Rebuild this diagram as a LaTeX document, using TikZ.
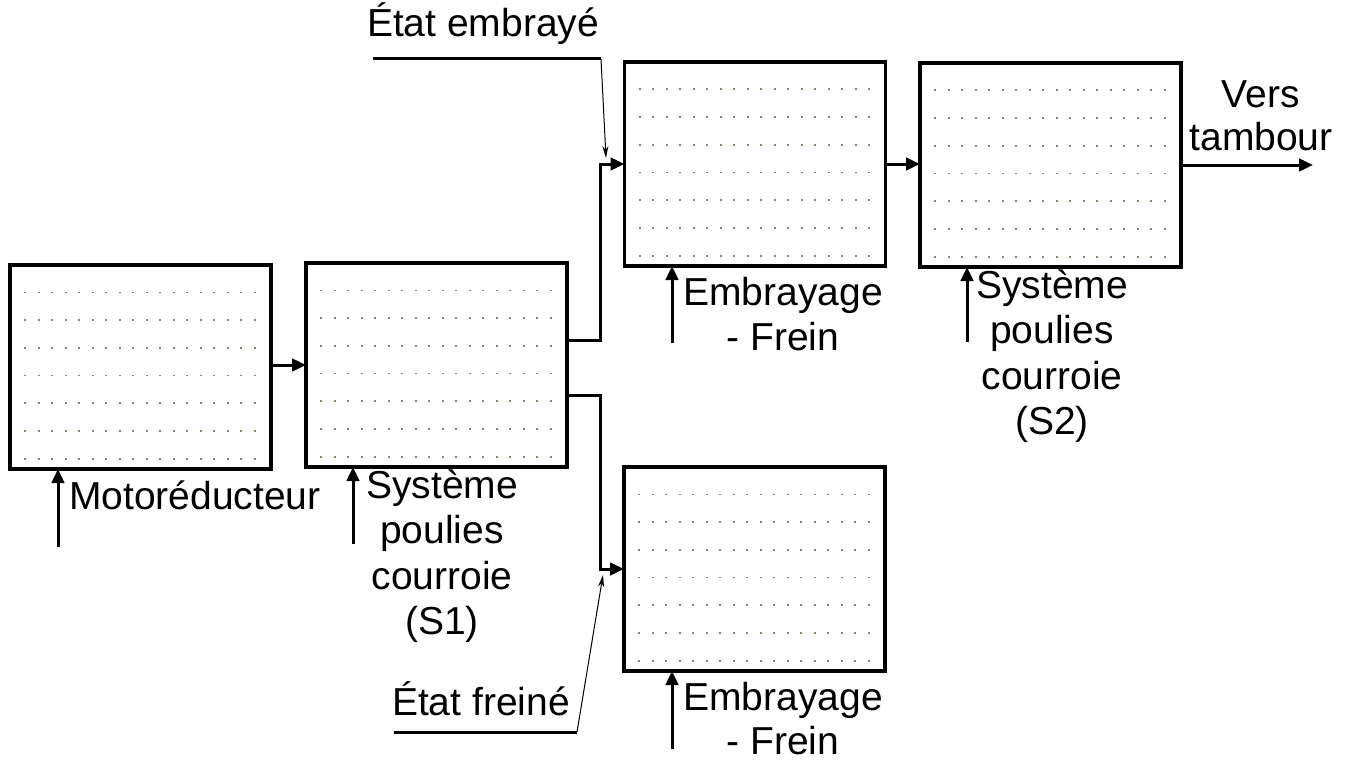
\documentclass[tikz,border=0pt]{standalone}
\usepackage{fontspec}
\setmainfont{Liberation Sans}
\usetikzlibrary{arrows.meta,calc}
\newcommand\firstline{\rule{0pt}{36pt}}
\begin{document}
\begin{tikzpicture}[x=1pt,y=-1pt,
 blk/.style={draw,line width=3.8pt,minimum width=261pt,minimum height=204pt,inner sep=0,outer sep=0},
 conn/.style={line width=3pt,-{Triangle[length=14pt,width=12.5pt]}},
 plain/.style={line width=3pt},
 thinarrow/.style={line width=1pt,-{Stealth[length=12pt,width=6pt]}},
 lbl/.style={inner sep=0,outer sep=0,align=center,font=\fontsize{39}{45.5}\selectfont},
 dotc/.style={fill=gray!85!orange}]
\useasboundingbox (0,0) rectangle (1347,760);
% blocks
\node[blk] (m) at (140.5,367) {};
\node[blk] (s1) at (436.5,365) {};
\node[blk] (ef1) at (755,164) {};
\node[blk] (s2) at (1050.5,165) {};
\node[blk] (ef2) at (754.5,569) {};
% dotted fill
\foreach \b in {m,s1,ef1,s2,ef2}{
  \foreach \i in {0,...,6}{
    \foreach \j in {0,...,17}{
      \fill[dotc] ($(\b.north west)+(14+13.5*\j,26.5+27.7*\i)$) rectangle ++(2.2,1.8);
    }
  }
}
% main flow
\draw[conn] (s1.west -| m.east) -- (s1.west);
\coordinate (j1) at (600,340);
\coordinate (j2) at (600,395);
\draw[conn] (s1.east |- j1) -- (j1) |- (ef1.west);
\draw[conn] (s1.east |- j2) -- (j2) |- (ef2.west);
\draw[conn] (ef1.east) -- (ef1.east -| s2.west);
\coordinate (out) at (1313,165);
\draw[conn] (s2.east) -- (out);
\node[lbl,anchor=north,font=\fontsize{39}{43}\selectfont] (vt) at (1261,71) {\firstline Vers\\tambour};
% inputs
\coordinate (i1) at (58,547);
\coordinate (i2) at (353,544);
\coordinate (i3) at (672,343);
\coordinate (i4) at (967,342);
\coordinate (i5) at (672,749);
\draw[conn] (i1) -- (i1 |- m.south);
\draw[conn] (i2) -- (i2 |- s1.south);
\draw[conn] (i3) -- (i3 |- ef1.south);
\draw[conn] (i4) -- (i4 |- s2.south);
\draw[conn] (i5) -- (i5 |- ef2.south);
\node[lbl,anchor=base west] (lm) at (69,509) {Motoréducteur};
\node[lbl,anchor=north] (ls1) at (442,462) {\firstline Système\\poulies\\courroie\\(S1)};
\node[lbl,anchor=north] (lef1) at (783,269) {\firstline Embrayage\\- Frein};
\node[lbl,anchor=north] (ls2) at (1052,262) {\firstline Système\\poulies\\courroie\\(S2)};
\node[lbl,anchor=north,font=\fontsize{39}{44}\selectfont] (lef2) at (783,674) {\firstline Embrayage\\- Frein};
% control states
\node[lbl,anchor=base west] (te) at (367,37) {État embrayé};
\coordinate (e0) at (373,59);
\coordinate (e1) at (601,59);
\coordinate (e2) at (606,158);
\draw[plain] (e0) -- (e1);
\draw[thinarrow] (e1) -- (e2);
\node[lbl,anchor=base west] (tf) at (392,715) {État freiné};
\coordinate (f0) at (394,732);
\coordinate (f1) at (577,732);
\coordinate (f2) at (603,575);
\draw[plain] (f0) -- (f1);
\draw[thinarrow] (f1) -- (f2);
\end{tikzpicture}
\end{document}
